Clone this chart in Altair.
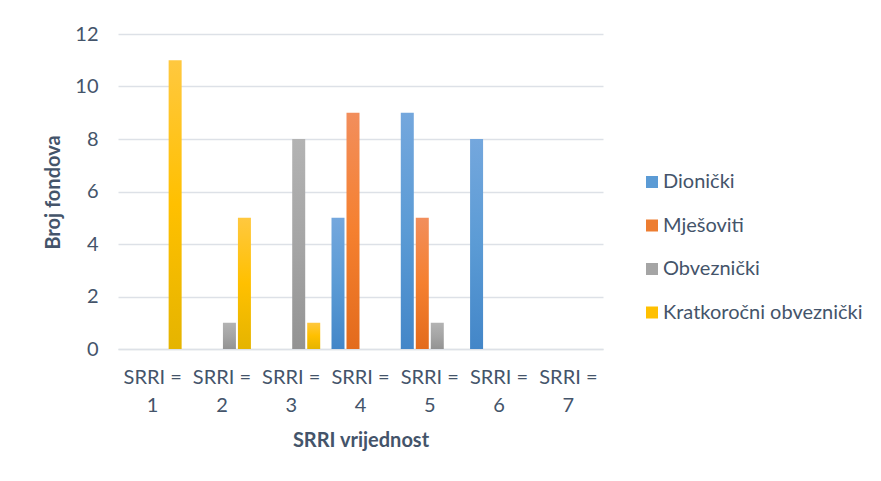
import altair as alt
import pandas as pd

categories = ["SRRI = 1", "SRRI = 2", "SRRI = 3", "SRRI = 4", "SRRI = 5", "SRRI = 6", "SRRI = 7"]
series = ["Dionički", "Mješoviti", "Obveznički", "Kratkoročni obveznički"]
dionicki = [0, 0, 0, 5, 9, 8, 0]
mjesoviti = [0, 0, 0, 9, 5, 0, 0]
obveznicki = [0, 1, 8, 0, 1, 0, 0]
kratkorocni = [11, 5, 1, 0, 0, 0, 0]

solid = ["#5B9BD5", "#ED7D31", "#A5A5A5", "#FFC000"]
grad_stops = [
    ["#74A7DD", "#5B9BD5", "#4386C8"],
    ["#F28E5C", "#F5802F", "#E36B1C"],
    ["#B3B3B3", "#A5A5A5", "#939393"],
    ["#FFC83F", "#FFC000", "#E5B400"],
]

values = [dionicki, mjesoviti, obveznicki, kratkorocni]
rows = []
for s, vals in zip(series, values):
    for c, v in zip(categories, vals):
        rows.append({"cat": c, "series": s, "value": v})
df = pd.DataFrame(rows)

text_color = "#44546A"
font = "Lato"

x_enc = alt.X(
    "cat:N",
    sort=categories,
    scale=alt.Scale(domain=categories, paddingInner=0.163, paddingOuter=0.0815),
    axis=alt.Axis(
        title="SRRI vrijednost",
        labelAngle=0,
        labelExpr="[slice(datum.label, 0, 6), slice(datum.label, 7)]",
        labelLineHeight=28,
        labelPadding=18,
        labelFontSize=20,
        labelColor=text_color,
        labelFont=font,
        ticks=False,
        grid=False,
        domain=True,
        domainColor="#DDE1E7",
        domainWidth=1.5,
        titleFontSize=20,
        titleFont=font,
        titleFontWeight="bold",
        titleColor=text_color,
        titleY=91,
        titleBaseline="middle",
    ),
)
y_enc = alt.Y(
    "value:Q",
    scale=alt.Scale(domain=[0, 12]),
    axis=alt.Axis(
        title="Broj fondova",
        values=[0, 2, 4, 6, 8, 10, 12],
        labelFontSize=20,
        labelColor=text_color,
        labelFont=font,
        labelPadding=20,
        ticks=False,
        domain=False,
        grid=True,
        gridColor="#DDE1E7",
        gridWidth=1.5,
        titleFontSize=20,
        titleFont=font,
        titleFontWeight="bold",
        titleColor=text_color,
        titleX=-65,
        titleY=158,
        titleAngle=270,
        titleAlign="center",
        titleBaseline="middle",
    ),
)
xoff_enc = alt.XOffset(
    "series:N",
    scale=alt.Scale(domain=series, paddingInner=0.133, paddingOuter=0),
)
color_enc = alt.Color(
    "series:N",
    scale=alt.Scale(domain=series, range=solid),
    legend=alt.Legend(
        title=None,
        orient="none",
        legendX=524,
        legendY=138,
        symbolType="square",
        symbolSize=144,
        symbolStrokeWidth=0,
        labelFontSize=20,
        labelFont=font,
        labelColor=text_color,
        labelOffset=1,
        labelLimit=400,
        rowPadding=23.5,
    ),
)

layers = []
for s, stops in zip(series, grad_stops):
    g = alt.Gradient(
        gradient="linear",
        x1=0, x2=0, y1=0, y2=1,
        stops=[
            alt.GradientStop(color=stops[0], offset=0),
            alt.GradientStop(color=stops[1], offset=0.5),
            alt.GradientStop(color=stops[2], offset=1),
        ],
    )
    layers.append(
        alt.Chart(df)
        .transform_filter(alt.datum.series == s)
        .mark_bar(fill=g)
        .encode(x=x_enc, xOffset=xoff_enc, y=y_enc, color=color_enc)
    )

chart = (
    alt.layer(*layers)
    .properties(
        width=485,
        height=315,
        autosize=alt.AutoSizeParams(type="none"),
        padding={"left": 110, "top": 26, "right": 270, "bottom": 120},
        view=alt.ViewBackground(stroke="transparent", strokeWidth=0, strokeOpacity=0),
    )
    .configure_view(strokeWidth=0, stroke="transparent", strokeOpacity=0)
    .configure(background="white")
)

chart.save("out.html", embed_options={"renderer": "svg", "actions": False})
